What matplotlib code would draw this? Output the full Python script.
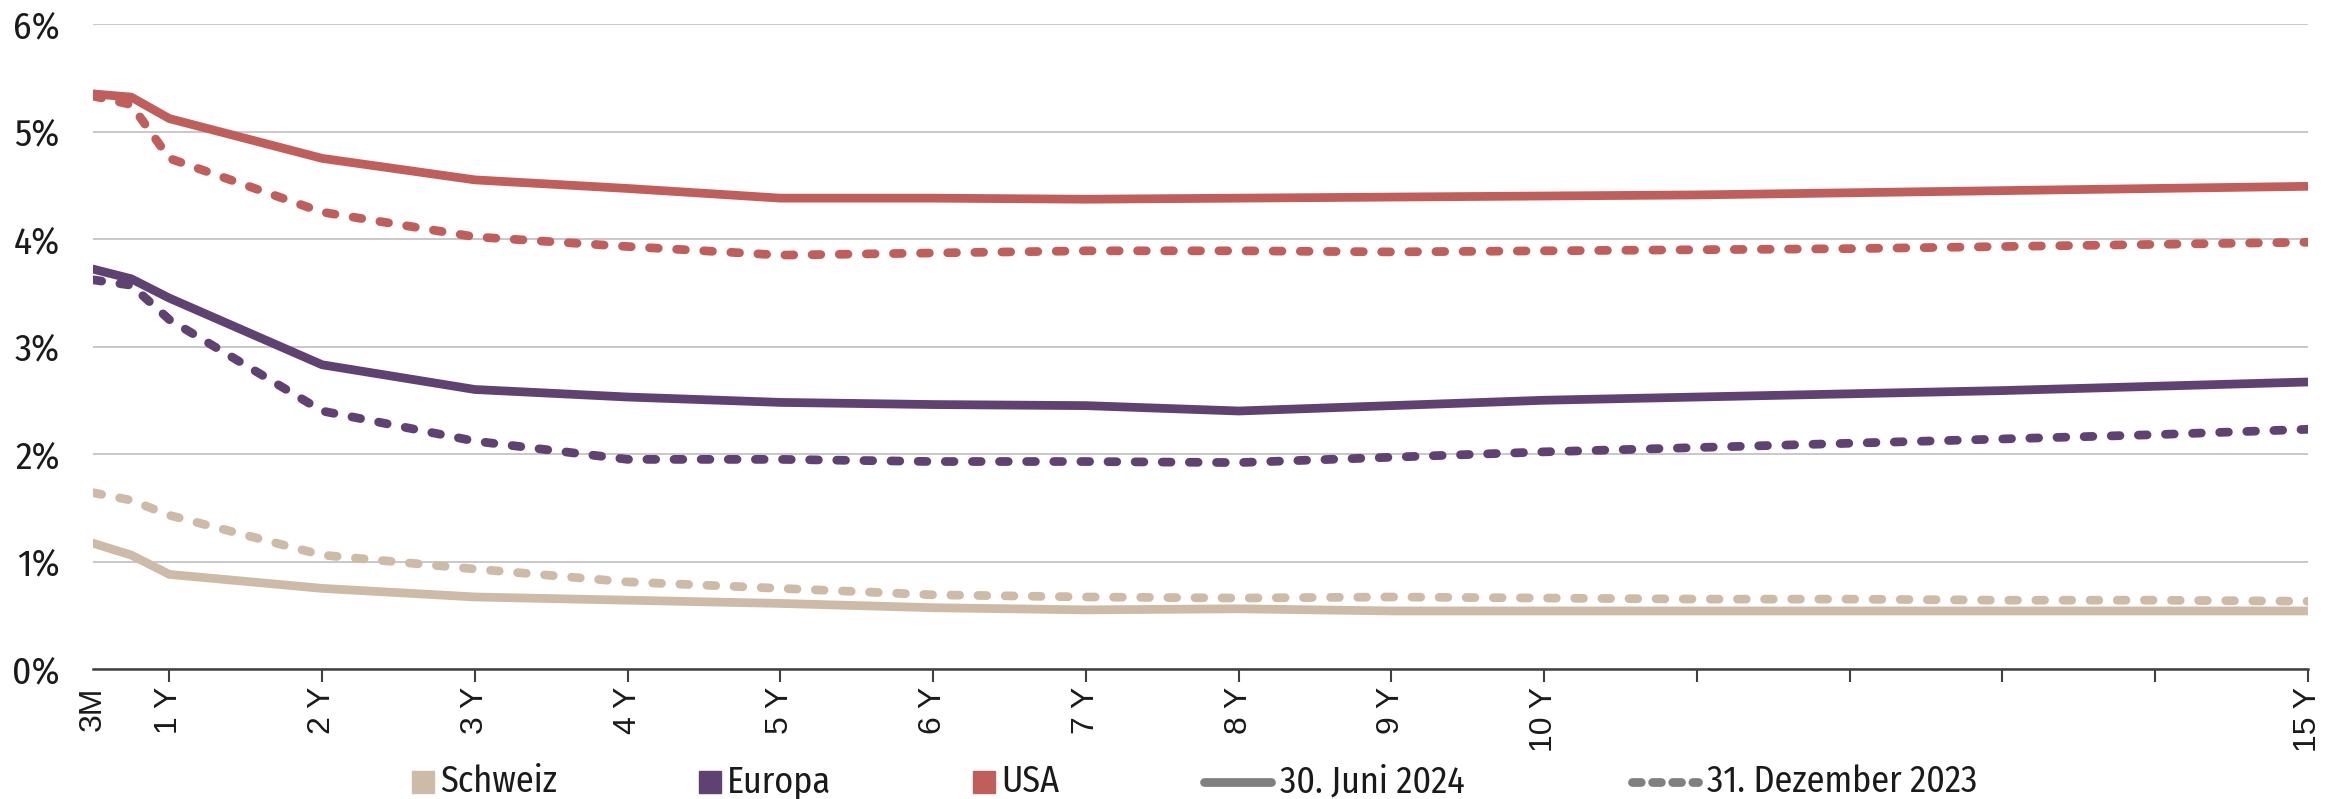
import matplotlib
matplotlib.use("Agg")
import matplotlib.pyplot as plt
from matplotlib.lines import Line2D
from matplotlib.patches import Rectangle

# Tenors: 3M, 6M, then yearly 1Y..15Y (position on the maturity axis)
tenor_pos = [0.5, 0.75, 1, 2, 3, 4, 5, 6, 7, 8, 9, 10, 11, 12, 13, 14, 15]

tick_pos = [0.5, 1, 2, 3, 4, 5, 6, 7, 8, 9, 10, 11, 12, 13, 14, 15]
tick_labels = ["3M", "1 Y", "2 Y", "3 Y", "4 Y", "5 Y", "6 Y", "7 Y", "8 Y",
               "9 Y", "10 Y", "", "", "", "", "15 Y"]

# Yields in %, 30. Juni 2024
usa_jun24 = [5.35, 5.32, 5.12, 4.75, 4.55, 4.47, 4.38, 4.38, 4.37, 4.38,
             4.39, 4.40, 4.41, 4.43, 4.45, 4.47, 4.49]
eur_jun24 = [3.72, 3.63, 3.45, 2.83, 2.60, 2.53, 2.48, 2.46, 2.45, 2.40,
             2.45, 2.50, 2.53, 2.56, 2.59, 2.63, 2.67]
ch_jun24 = [1.17, 1.06, 0.88, 0.75, 0.67, 0.64, 0.61, 0.57, 0.55, 0.56,
            0.54, 0.54, 0.54, 0.54, 0.54, 0.54, 0.54]

# Yields in %, 31. Dezember 2023
usa_dec23 = [5.33, 5.25, 4.75, 4.25, 4.02, 3.93, 3.85, 3.87, 3.89, 3.89,
             3.88, 3.89, 3.90, 3.91, 3.93, 3.95, 3.97]
eur_dec23 = [3.62, 3.57, 3.25, 2.40, 2.12, 1.95, 1.95, 1.93, 1.93, 1.92,
             1.97, 2.02, 2.06, 2.10, 2.14, 2.18, 2.23]
ch_dec23 = [1.64, 1.57, 1.43, 1.06, 0.93, 0.81, 0.75, 0.69, 0.67, 0.66,
            0.67, 0.66, 0.65, 0.65, 0.64, 0.64, 0.63]

y_ticks = [0, 1, 2, 3, 4, 5, 6]

C_CH = "#CDBBA8"
C_EU = "#5F4272"
C_US = "#C05E5C"
C_LEG = "#808080"

narrow = ["Fira Sans Condensed", "Roboto Condensed", "Sofia Sans Condensed",
          "TeX Gyre Heros Cn", "Liberation Sans", "DejaVu Sans"]
regular = ["Liberation Sans", "DejaVu Sans"]

fig = plt.figure(figsize=(23.48, 7.99), dpi=100)
ax = fig.add_axes([93 / 2348, 1 - 669 / 799, (2308 - 93) / 2348, (669 - 24) / 799])

LW = 6.3
DASH = (1.0, 2.1)

series = [
    (ch_dec23, C_CH, True), (ch_jun24, C_CH, False),
    (eur_dec23, C_EU, True), (eur_jun24, C_EU, False),
    (usa_dec23, C_US, True), (usa_jun24, C_US, False),
]
for vals, col, dashed in series:
    if dashed:
        ax.plot(tenor_pos, vals, color=col, lw=LW, dashes=DASH,
                dash_capstyle="round", zorder=3)
    else:
        ax.plot(tenor_pos, vals, color=col, lw=LW,
                solid_capstyle="round", solid_joinstyle="round", zorder=3)

ax.set_xticks(tick_pos)
ax.set_xlim(0.5, 15)
ax.set_ylim(0, 6)

ax.set_yticks(y_ticks)
ax.set_yticklabels([f"{v}%" for v in y_ticks], fontsize=27, family=narrow,
                   color="#1a1a1a")
ax.tick_params(axis="y", length=0, pad=24)
ax.grid(axis="y", color="#C8C8C8", lw=1.4, zorder=0)

ax.set_xticklabels(tick_labels, rotation=90, fontsize=23,
                   family=regular, color="#1a1a1a", va="top")
ax.tick_params(axis="x", direction="out", length=9, width=1.5,
               color="#404040", pad=4)
ax.xaxis.get_major_ticks()[0].tick1line.set_visible(False)

for s in ("left", "right", "top"):
    ax.spines[s].set_visible(False)
ax.spines["bottom"].set_color("#404040")
ax.spines["bottom"].set_linewidth(1.8)
ax.spines["bottom"].set_zorder(4)

# Legend row along the bottom
W, H = 2348.0, 799.0
yc = 782
fs_leg = 26

def leg_text(x, label):
    fig.text(x / W, 1 - yc / H, label, fontsize=fs_leg, family=narrow,
             color="#1a1a1a", va="center", ha="left")

for x0, col, label in [(412, C_CH, "Schweiz"), (699, C_EU, "Europa"),
                       (973, C_US, "USA")]:
    fig.patches.append(Rectangle((x0 / W, 1 - (yc + 11) / H), 22 / W, 22 / H,
                                 transform=fig.transFigure, color=col))
    leg_text(x0 + 28, label)

fig.lines.append(Line2D([1204 / W, 1271 / W], [1 - yc / H, 1 - yc / H],
                        transform=fig.transFigure, color=C_LEG, lw=LW,
                        solid_capstyle="round"))
leg_text(1280, "30. Juni 2024")
fig.lines.append(Line2D([1632 / W, 1698 / W], [1 - yc / H, 1 - yc / H],
                        transform=fig.transFigure, color=C_LEG, lw=LW,
                        dashes=(1.0, 1.3), dash_capstyle="round"))
leg_text(1707, "31. Dezember 2023")

fig.savefig("out.png", dpi=100, facecolor="white")
